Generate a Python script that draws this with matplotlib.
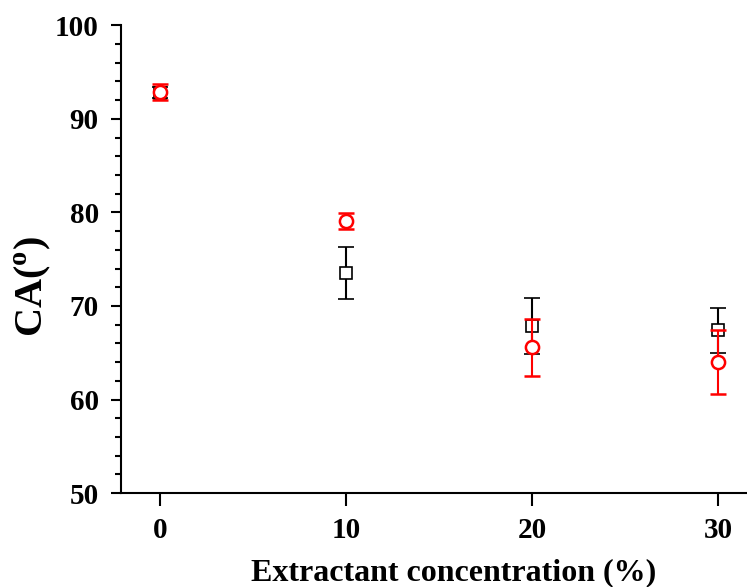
import numpy as np
import matplotlib.pyplot as plt
from matplotlib.ticker import MultipleLocator

plt.rcParams['font.family'] = 'Liberation Serif'
plt.rcParams['font.weight'] = 'bold'
plt.rcParams['mathtext.fontset'] = 'custom'
plt.rcParams['mathtext.rm'] = 'Liberation Serif:bold'
plt.rcParams['mathtext.bf'] = 'Liberation Serif:bold'

# Datos
conc = [0, 10, 20, 30]
ca_negro = [92.8, 73.5, 67.9, 67.4]
err_negro = [0.6, 2.8, 3.0, 2.4]
ca_rojo = [92.85, 79.1, 65.6, 64.0]
err_rojo = [0.85, 0.85, 3.05, 3.4]

fig = plt.figure(figsize=(7.47, 5.87), dpi=100)
ax = fig.add_axes([0.162, 0.160, 0.838, 0.797])

ax.errorbar(conc, ca_negro, yerr=err_negro, fmt='s', color='black', mfc='white',
            mec='black', ms=8.5, mew=1.2, elinewidth=1.5, capsize=5.5, capthick=2, zorder=2)
ax.errorbar(conc, ca_rojo, yerr=err_rojo, fmt='o', color='red', mfc='white',
            mec='red', ms=9.5, mew=1.8, elinewidth=1.5, capsize=5.5, capthick=2, zorder=3)

ax.set_xlim(-2.1, 31.56)
ax.set_ylim(50, 100)
ax.set_xticks(conc)
ax.yaxis.set_major_locator(MultipleLocator(10))
ax.yaxis.set_minor_locator(MultipleLocator(2))

for s in ['top', 'right']:
    ax.spines[s].set_visible(False)
for s in ['left', 'bottom']:
    ax.spines[s].set_linewidth(1.5)

ax.tick_params(axis='y', which='major', direction='out', length=7, width=1.5,
               labelsize=21, pad=9)
ax.tick_params(axis='x', which='major', direction='out', length=9, width=1.5,
               labelsize=21, pad=8)
ax.tick_params(axis='y', which='minor', direction='out', length=4, width=1.5)

ax.set_xlabel('Extractant concentration (%)', fontsize=23, fontweight='bold')
ax.xaxis.set_label_coords(0.532, -0.139)
ax.set_ylabel(r'CA(${}^{\mathrm{o}}$)', fontsize=29, fontweight='bold')
ax.yaxis.set_label_coords(-0.108, 0.442)

plt.savefig('out.png', dpi=100)
